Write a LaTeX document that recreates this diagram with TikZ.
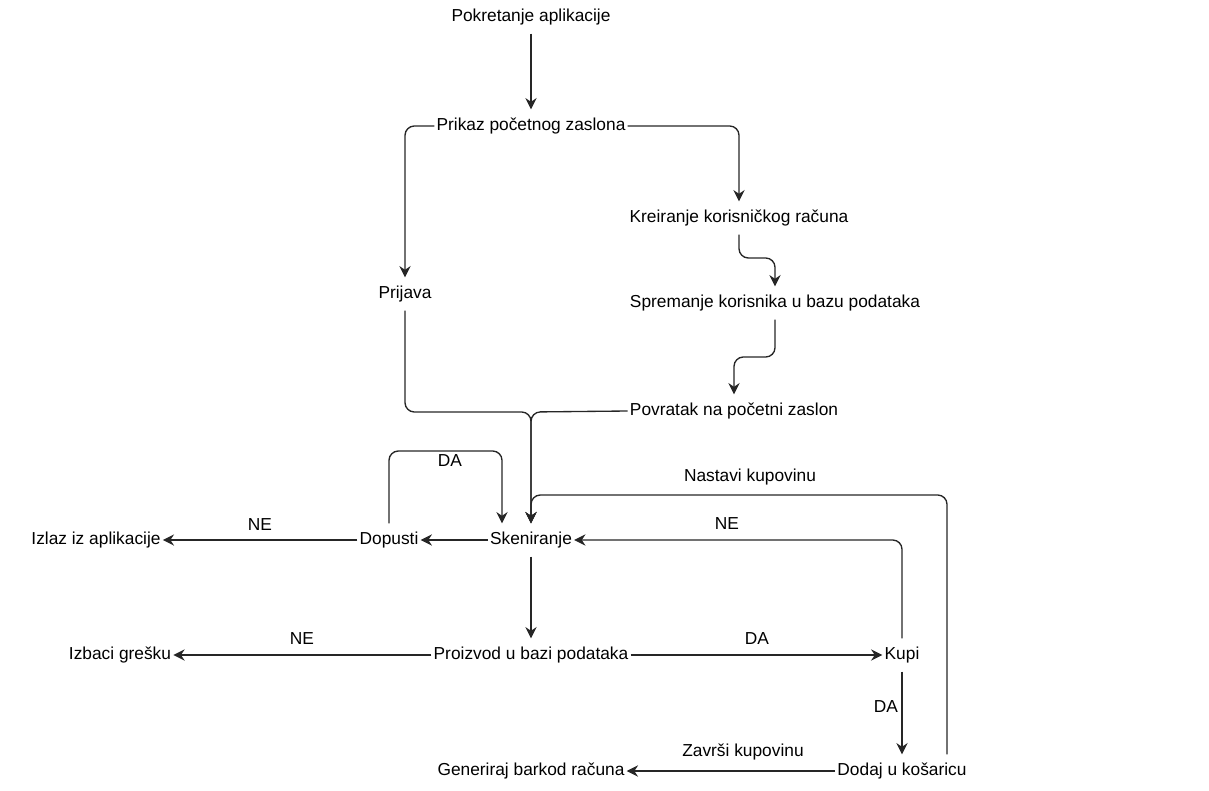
\documentclass[tikz,border=0pt]{standalone}
\usepackage{fontspec}
\setmainfont{Liberation Sans}
\usetikzlibrary{arrows.meta}
\begin{document}
\begin{tikzpicture}[x=0.75pt,y=-0.75pt,
  every node/.style={font=\fontsize{13}{15}\selectfont, text=black},
  box/.style={inner xsep=1.5pt, inner ysep=0pt, minimum height=24.5pt},
  lbl/.style={inner sep=0pt},
  conn/.style={line width=1pt, draw=black!85, rounded corners=7pt,
    -{Stealth[length=8.5pt,width=8.5pt,inset=2.8pt]}},
  plain/.style={line width=1pt, draw=black!85, rounded corners=7pt}]
\useasboundingbox (0,0) rectangle (1209,791);

\node[box] (pok) at (531,17) {Pokretanje aplikacije};
\node[box] (prikaz) at (531,126) {Prikaz početnog zaslona};
\node[box] (kreir) at (739,218) {Kreiranje korisničkog računa};
\node[box] (sprem) at (775,303) {Spremanje korisnika u bazu podataka};
\node[box] (povr) at (734,411) {Povratak na početni zaslon};
\node[box] (prij) at (405,294) {Prijava};
\node[box] (sken) at (531,540) {Skeniranje};
\node[box] (dop) at (389,540) {Dopusti};
\node[box] (izlaz) at (96,540) {Izlaz iz aplikacije};
\node[box] (proiz) at (531,655) {Proizvod u bazi podataka};
\node[box] (izbaci) at (120,655) {Izbaci grešku};
\node[box] (kupi) at (902,655) {Kupi};
\node[box] (dodaj) at (902,771) {Dodaj u košaricu};
\node[box] (gen) at (531,771) {Generiraj barkod računa};

\coordinate (m1) at (531,412);
\coordinate (m2) at (531,495);

\draw[conn] (pok) -- (prikaz);
\draw[conn] (prikaz.west) -| (prij.north);
\draw[conn] (prikaz.east) -| (kreir.north);
\draw[conn] (kreir.south) -- (739,258) -- (775,258) -- (sprem.north);
\draw[conn] (sprem.south) -- (775,357) -- (734,357) -- (povr.north);
\draw[conn] (prij.south) |- (m1) -- (sken.north);
\draw[conn] (povr.west) -- (m1) -- (sken.north);
\draw[conn] (sken.west) -- (dop.east);
\draw[conn] (dop.north) -- (389,451) -- (502,451) -- ([xshift=-21.75pt]sken.north);
\draw[conn] (dop.west) -- (izlaz.east);
\draw[conn] (sken.south) -- (proiz.north);
\draw[conn] (proiz.west) -- (izbaci.east);
\draw[conn] (proiz.east) -- (kupi.west);
\draw[conn] (kupi.north) |- (sken.east);
\draw[conn] (kupi.south) -- (dodaj.north);
\draw[conn] ([xshift=33.75pt]dodaj.north) |- (m2) -- (sken.north);
\draw[conn] (dodaj.west) -- (gen.east);

\node[lbl] (l1) at (450,461) {DA};
\node[lbl] (l2) at (260,525) {NE};
\node[lbl] (l3) at (750,477) {Nastavi kupovinu};
\node[lbl] (l4) at (727,524) {NE};
\node[lbl] (l5) at (302,639) {NE};
\node[lbl] (l6) at (757,639) {DA};
\node[lbl] (l7) at (886,707) {DA};
\node[lbl] (l8) at (743,752) {Završi kupovinu};
\end{tikzpicture}
\end{document}
